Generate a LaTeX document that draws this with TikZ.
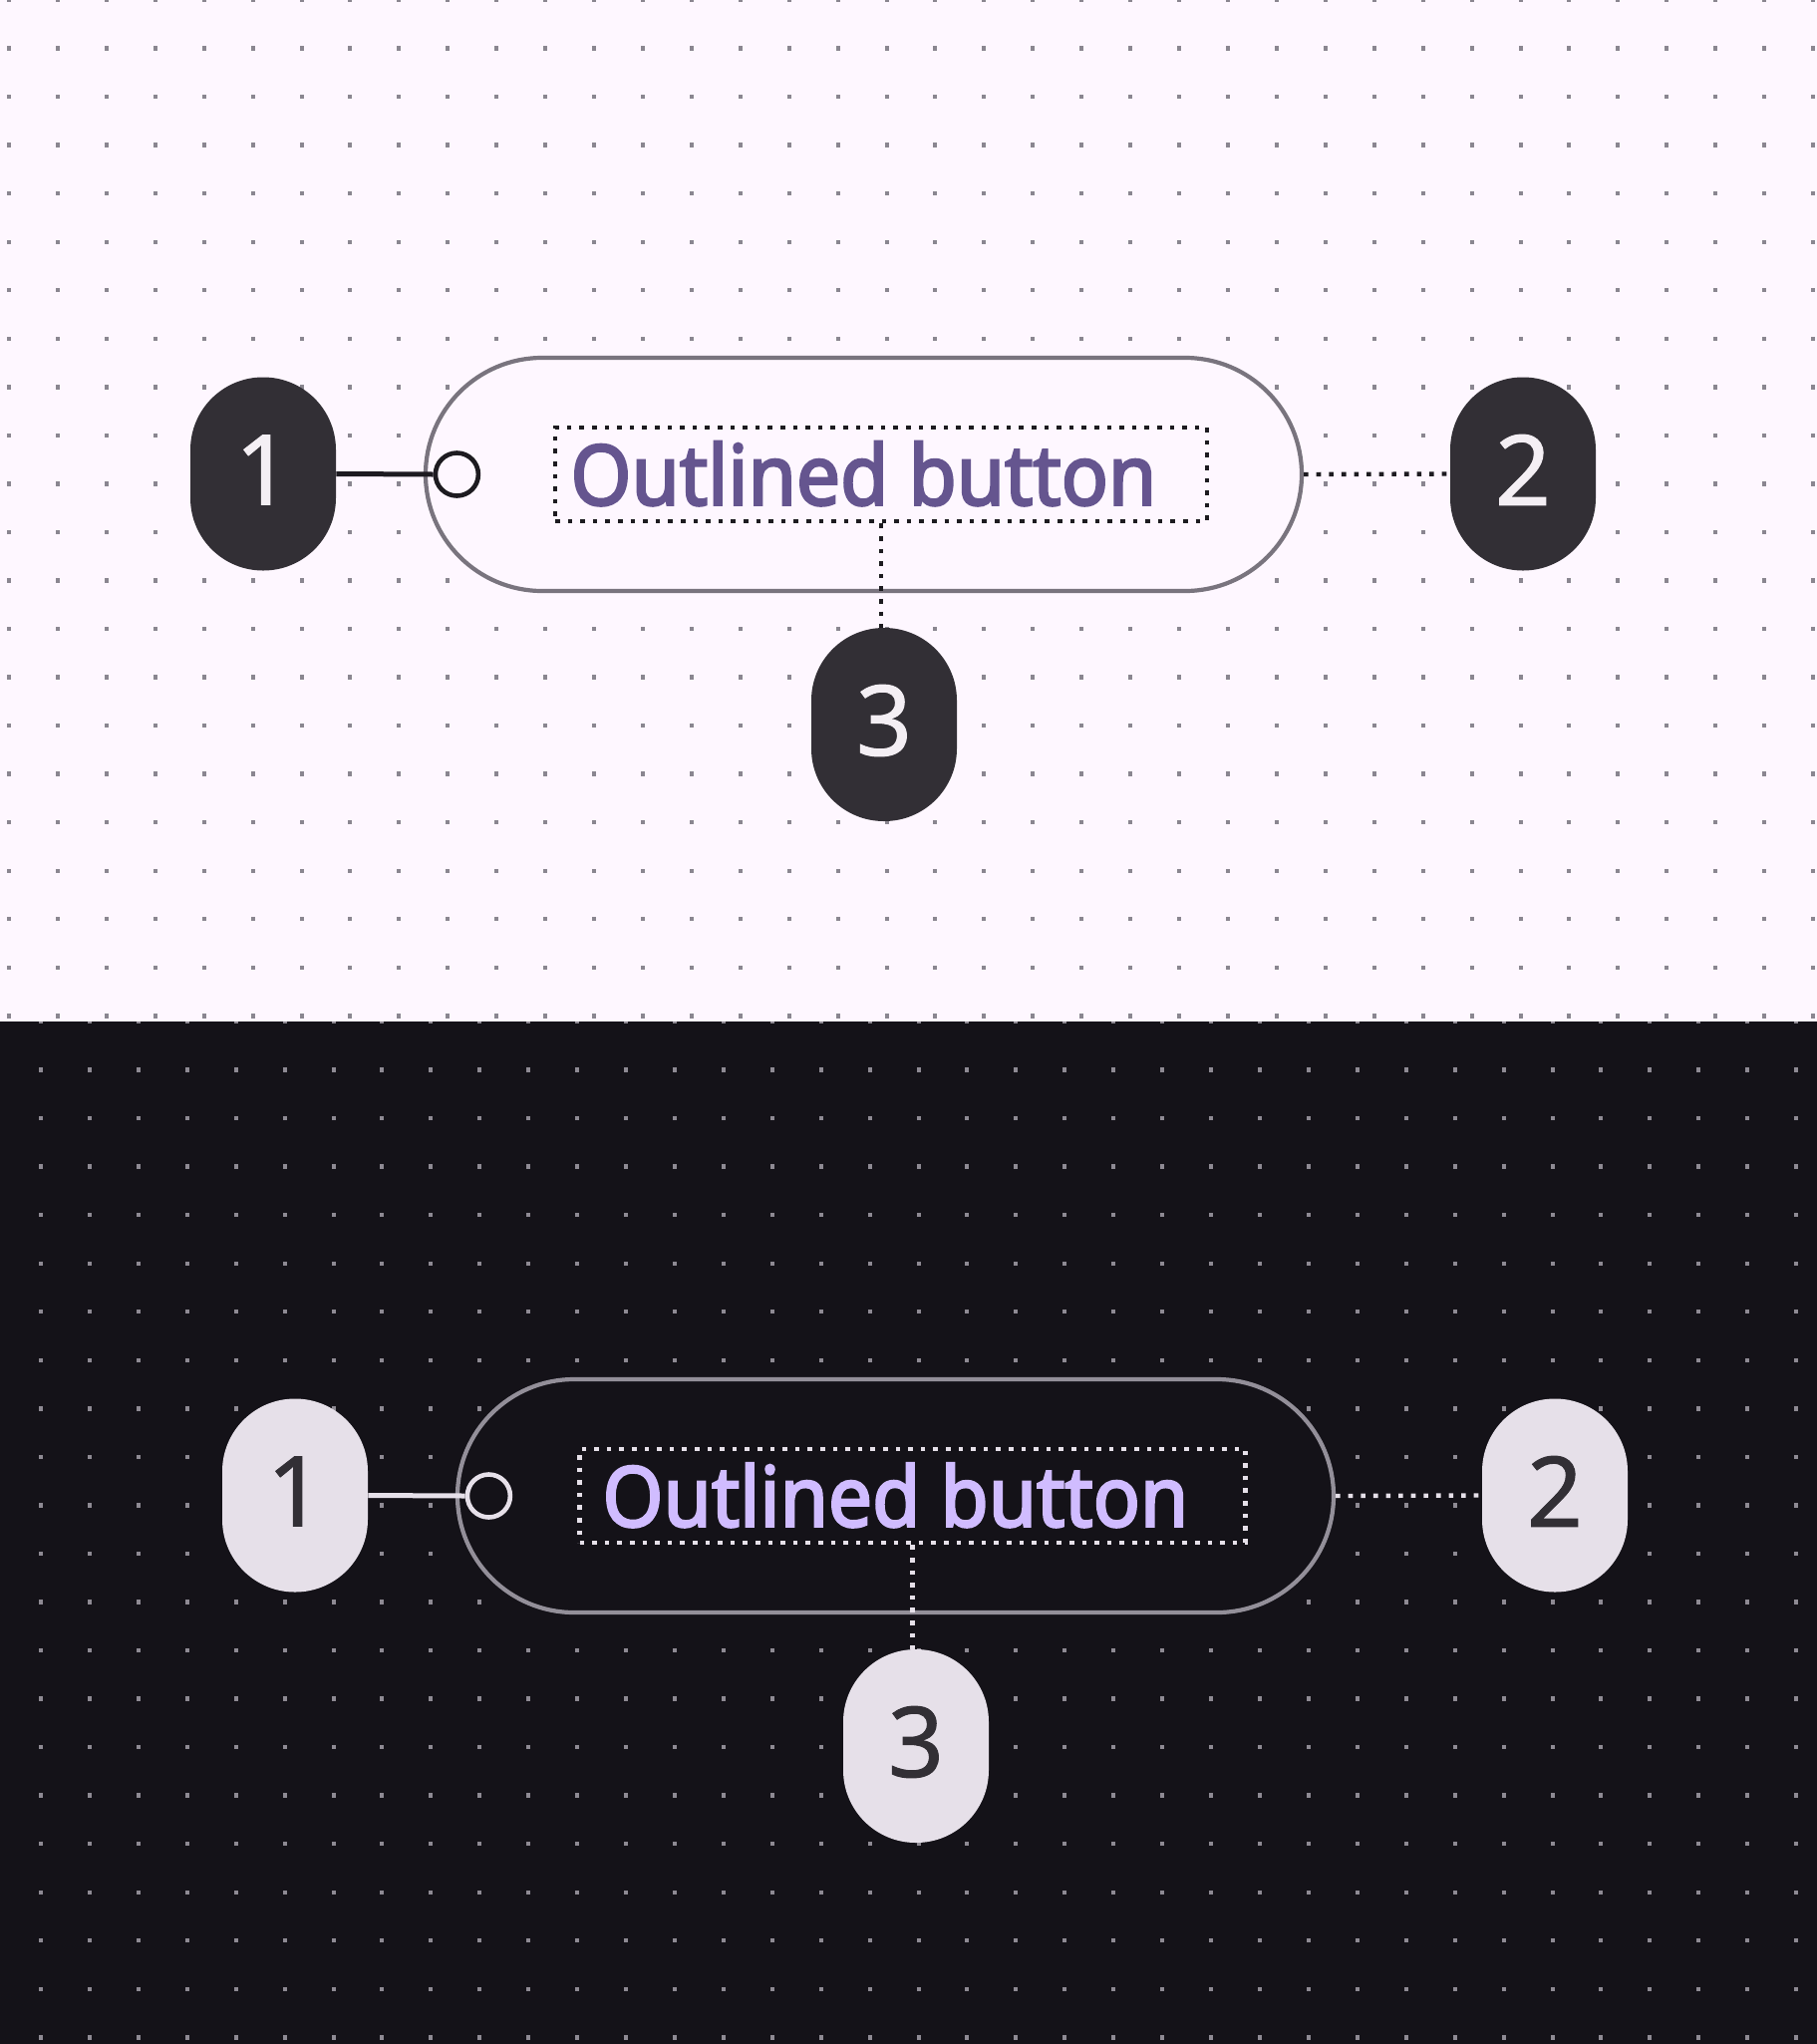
\documentclass[tikz,border=0pt]{standalone}
\usepackage{graphicx}
\usepackage{fontspec}
\setmainfont{Noto Sans}
\newfontfamily\labfont[FakeBold=1]{Noto Sans}
\newfontfamily\btnfont[FakeBold=3]{Noto Sans}
\definecolor{lbg}{HTML}{FEF7FF}
\definecolor{ldot}{HTML}{8A8690}
\definecolor{lbadge}{HTML}{322F35}
\definecolor{ldigit}{HTML}{F4EFF4}
\definecolor{loutline}{HTML}{79747E}
\definecolor{ltext}{HTML}{65558F}
\definecolor{lline}{HTML}{1D1B20}
\definecolor{dbg}{HTML}{141218}
\definecolor{ddot}{HTML}{8E8A93}
\definecolor{dbadge}{HTML}{E6E0E9}
\definecolor{ddigit}{HTML}{322F35}
\definecolor{doutline}{HTML}{938F99}
\definecolor{dtext}{HTML}{D0BCFF}
\definecolor{dline}{HTML}{E6E0E9}
\tikzset{
  badge/.style={fill=pbadge, draw=none, minimum width=73pt, minimum height=97pt,
    rounded corners=36.4pt, inner sep=0pt},
  digit/.style={text=pdigit, font=\labfont\fontsize{49}{49}\selectfont, inner sep=0pt, yshift=2pt},
  btn/.style={draw=poutline, line width=2.1pt, fill=pbg, minimum width=439.5pt,
    minimum height=117pt, rounded corners=58.5pt, inner sep=0pt},
  dotbox/.style={draw=pline, line width=2.2pt, dash pattern=on 2.3pt off 4pt,
    minimum height=47.15pt, inner sep=0pt},
  dotline/.style={draw=pline, line width=2.2pt, dash pattern=on 2.3pt off 4pt},
  solidline/.style={draw=pline, line width=2.5pt},
  ring/.style={circle, draw=pline, line width=2.3pt, fill=pbg, minimum size=21.5pt, inner sep=0pt},
  btntext/.style={text=ptext, inner sep=0pt, anchor=base west},
  gdot/.style={fill=pdot}
}
% #1 prefix, #2 dotted box centre x, #3 dotted box width
\newcommand\drawpanel[3]{%
  \foreach \i in {0,...,37}{\foreach \j in {0,...,21}{%
    \fill[gdot] (9+48.92*\i-2,48.54*\j-2.2) rectangle ++(4,4.4);}}
  \node[btn] (#1btn) at (866.5,476) {};
  \node[dotbox, minimum width=#3] (#1box) at (#2,476) {};
  \node[btntext] (#1txt) at (572,506.7)
    {\resizebox{294pt}{31.85pt}{\btnfont\fontsize{40}{40}\selectfont Outlined button}};
  \node[badge, label={[digit]center:1}] (#1b1) at (264,475.5) {};
  \node[badge, label={[digit]center:2}] (#1b2) at (1528,475.5) {};
  \node[badge, label={[digit]center:3}] (#1b3) at (887,727) {};
  \node[ring] (#1ring) at (458.4,476) {};
  \draw[solidline] (#1b1.east) -- (#1ring.west);
  \draw[dotline] (#1btn.east) -- (#1b2.west);
  \draw[dotline] (#1box.south) -- (#1box.south |- #1b3.north);
}
\begin{document}
\begin{tikzpicture}[x=0.5pt,y=-0.5pt]
\useasboundingbox (0,0) rectangle (1823,2051);
% light panel
\begin{scope}
  \colorlet{pbg}{lbg}\colorlet{pdot}{ldot}\colorlet{pbadge}{lbadge}
  \colorlet{pdigit}{ldigit}\colorlet{poutline}{loutline}\colorlet{ptext}{ltext}
  \colorlet{pline}{lline}
  \clip (0,0) rectangle (1823,1025);
  \fill[pbg] (0,0) rectangle (1823,1025);
  \drawpanel{L}{884}{327pt}
\end{scope}
% dark panel
\begin{scope}
  \colorlet{pbg}{dbg}\colorlet{pdot}{ddot}\colorlet{pbadge}{dbadge}
  \colorlet{pdigit}{ddigit}\colorlet{poutline}{doutline}\colorlet{ptext}{dtext}
  \colorlet{pline}{dline}
  \clip (0,1025) rectangle (1823,2051);
  \fill[pbg] (0,1025) rectangle (1823,2051);
  \begin{scope}[shift={(32,1025)}]
    \drawpanel{D}{883.6}{334pt}
  \end{scope}
\end{scope}
\end{tikzpicture}
\end{document}
